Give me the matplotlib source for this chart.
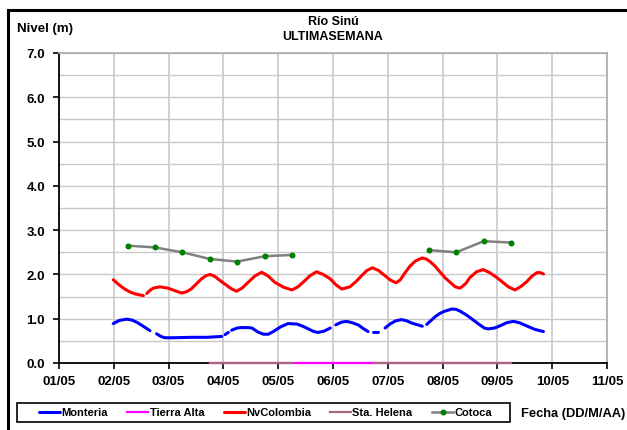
import numpy as np
import matplotlib
matplotlib.use("Agg")
import matplotlib.pyplot as plt
from matplotlib.lines import Line2D
from matplotlib.patches import Rectangle

plt.rcParams['font.family'] = ['Liberation Sans', 'DejaVu Sans']
plt.rcParams['font.weight'] = 'bold'

nan = np.nan

# x values: days after 01/05
x_tick_labels = ["01/05", "02/05", "03/05", "04/05", "05/05", "06/05",
                 "07/05", "08/05", "09/05", "10/05", "11/05"]
y_tick_labels = ["0.0", "1.0", "2.0", "3.0", "4.0", "5.0", "6.0", "7.0"]

monteria_t = [0.99, 1.10, 1.235, 1.33, 1.42, 1.55, 1.66, 1.72, 1.78, 1.86, 1.93, 2.06,
              2.42, 2.70, 2.97, 3.00, 3.03, 3.09, 3.12, 3.15, 3.25, 3.33, 3.45, 3.52,
              3.63, 3.73, 3.82, 3.91, 4.05, 4.18, 4.34, 4.45, 4.55, 4.65, 4.73, 4.84,
              4.95, 5.00, 5.05, 5.15, 5.25, 5.35, 5.46, 5.55, 5.64, 5.69, 5.74, 5.83,
              5.89, 5.95, 6.04, 6.14, 6.25, 6.35, 6.44, 6.55, 6.63, 6.67, 6.71, 6.78,
              6.86, 6.95, 7.04, 7.17, 7.25, 7.32, 7.44, 7.56, 7.68, 7.76, 7.83, 7.95,
              8.05, 8.17, 8.29, 8.40, 8.53, 8.68, 8.84]
monteria_v = [0.89, 0.96, 0.99, 0.97, 0.92, 0.82, 0.73, nan, 0.66, 0.60, 0.57, 0.57,
              0.58, 0.58, 0.60, nan, 0.64, 0.69, nan, 0.74, 0.79, 0.80, 0.80, 0.79,
              0.70, 0.65, 0.65, 0.71, 0.82, 0.89, 0.88, 0.83, 0.77, 0.71, 0.69, 0.72,
              0.79, nan, 0.86, 0.92, 0.94, 0.91, 0.86, 0.78, 0.71, nan, 0.69, 0.69,
              nan, 0.79, 0.88, 0.95, 0.98, 0.95, 0.90, 0.86, 0.83, nan, 0.87, 0.95,
              1.04, 1.12, 1.17, 1.22, 1.21, 1.17, 1.08, 0.97, 0.86, 0.79, 0.77, 0.79,
              0.84, 0.91, 0.94, 0.91, 0.84, 0.76, 0.71]

nvcol_t = [0.99, 1.10, 1.20, 1.30, 1.39, 1.54, 1.57, 1.60, 1.66, 1.72, 1.84, 1.99,
           2.12, 2.24, 2.33, 2.42, 2.51, 2.60, 2.68, 2.76, 2.85, 2.94, 3.03, 3.14,
           3.24, 3.34, 3.45, 3.57, 3.70, 3.82, 3.94, 4.10, 4.25, 4.36, 4.46, 4.58,
           4.70, 4.82, 4.95, 5.05, 5.16, 5.31, 5.42, 5.52, 5.62, 5.72, 5.83, 5.95,
           6.05, 6.15, 6.23, 6.31, 6.40, 6.50, 6.62, 6.70, 6.78, 6.86, 6.95, 7.04,
           7.14, 7.23, 7.32, 7.42, 7.50, 7.62, 7.74, 7.86, 7.99, 8.10, 8.20, 8.32,
           8.42, 8.53, 8.63, 8.72, 8.79, 8.84]
nvcol_v = [1.88, 1.76, 1.67, 1.60, 1.56, 1.52, nan, 1.57, 1.64, 1.69, 1.72, 1.69,
           1.63, 1.58, 1.61, 1.68, 1.79, 1.90, 1.97, 2.00, 1.95, 1.86, 1.78, 1.68,
           1.62, 1.69, 1.82, 1.96, 2.05, 1.96, 1.82, 1.71, 1.65, 1.72, 1.83, 1.97,
           2.06, 2.00, 1.90, 1.77, 1.67, 1.72, 1.84, 1.97, 2.09, 2.15, 2.09, 1.97,
           1.87, 1.81, 1.88, 2.03, 2.18, 2.30, 2.37, 2.35, 2.28, 2.19, 2.06, 1.93,
           1.82, 1.72, 1.69, 1.79, 1.93, 2.06, 2.11, 2.04, 1.93, 1.82, 1.72, 1.65,
           1.72, 1.83, 1.96, 2.04, 2.04, 2.01]

tierra_t = [2.75, 4.25, 5.75, 8.25]
tierra_v = [0.0, 0.0, 0.0, 0.0]

helena_t = [2.75, 4.25, 5.00, 5.75, 8.25]
helena_v = [0.0, 0.0, nan, 0.0, 0.0]

cotoca_t = [1.25, 1.75, 2.25, 2.75, 3.25, 3.75, 4.25, 5.50, 6.75, 7.25, 7.75, 8.25]
cotoca_v = [2.65, 2.61, 2.50, 2.35, 2.29, 2.41, 2.44, nan, 2.55, 2.50, 2.75, 2.72]

W, H = 627, 431
fig = plt.figure(figsize=(W / 100, H / 100), dpi=100)
fig.patch.set_facecolor('white')

ax = fig.add_axes([59 / W, 1 - 364 / H, (607 - 59) / W, (364 - 54) / H])

grid_c = '#c8c8c8'
for yv in np.arange(0.5, 7.01, 0.5):
    ax.axhline(yv, color=grid_c, lw=1.0, zorder=0)
for xv in range(1, 11):
    ax.axvline(xv, color=grid_c, lw=1.2, zorder=0)

ax.plot(monteria_t, monteria_v, color='#0000ff', lw=2.2, label='Monteria',
        solid_capstyle='round', zorder=3)
ax.plot(tierra_t, tierra_v, color='#ff00ff', lw=1.6, label='Tierra Alta', zorder=5,
        clip_on=False)
ax.plot(nvcol_t, nvcol_v, color='#ff0000', lw=2.2, label='NvColombia',
        solid_capstyle='round', zorder=3)
ax.plot(helena_t, helena_v, color='#a8687a', lw=1.6, label='Sta. Helena', zorder=6,
        clip_on=False)
ax.plot(cotoca_t, cotoca_v, color='#808080', lw=1.8, marker='o', ms=3.3,
        mfc='#008000', mec='#008000', label='Cotoca', zorder=3)

ax.set_xlim(0, 10)
ax.set_ylim(0, 7)
ax.set_xticks(range(11))
ax.set_xticklabels(x_tick_labels, fontsize=9.5, fontweight='bold')
ax.set_yticks(range(8))
ax.set_yticklabels(y_tick_labels, fontsize=9.5, fontweight='bold')
ax.tick_params(axis='both', direction='out', length=4, width=1.2, color='black')
ax.tick_params(axis='x', pad=5)
ax.tick_params(axis='y', pad=6)
for s in ['left', 'bottom']:
    ax.spines[s].set_color('black')
    ax.spines[s].set_linewidth(1.3)
for s in ['top', 'right']:
    ax.spines[s].set_color('#b0b0b0')
    ax.spines[s].set_linewidth(1.3)

fig.text(333 / W, 1 - 22 / H, 'Río Sinú', ha='center', va='center',
         fontsize=9, fontweight='bold')
fig.text(333 / W, 1 - 37 / H, 'ULTIMASEMANA', ha='center', va='center',
         fontsize=9, fontweight='bold')
fig.text(17 / W, 1 - 29 / H, 'Nivel (m)', ha='left', va='center',
         fontsize=9.5, fontweight='bold')
fig.text(625 / W, 1 - 414 / H, 'Fecha (DD/M/AA)', ha='right', va='center',
         fontsize=9.3, fontweight='bold')

leg = fig.legend(loc='center', bbox_to_anchor=((40 + 491) / 2 / W, 1 - 413.5 / H),
                 ncol=5, frameon=False,
                 prop={'size': 8, 'weight': 'bold'}, handlelength=1.9,
                 handletextpad=0.1, columnspacing=1.75, borderpad=0.0,
                 numpoints=1, borderaxespad=0)
fig.add_artist(Rectangle((17 / W, 1 - 423 / H), (510 - 17) / W, 19 / H,
                         transform=fig.transFigure, fill=False,
                         edgecolor='black', lw=1.2))

# outer frame
fig.add_artist(Line2D([8 / W, 1.0], [1 - 11 / H, 1 - 11 / H], color='black',
                      lw=2.2, transform=fig.transFigure))
fig.add_artist(Line2D([8 / W, 8 / W], [1 - 11 / H, 0.0], color='black',
                      lw=2.2, transform=fig.transFigure))

fig.savefig('out.png', dpi=100)
